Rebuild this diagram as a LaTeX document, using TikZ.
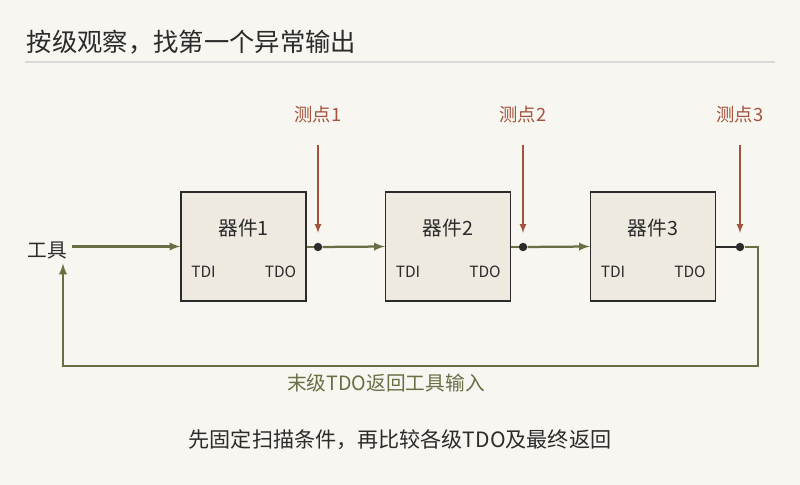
\documentclass[tikz,border=0pt]{standalone}
\usepackage{fontspec}
\setmainfont{Noto Sans CJK SC}
\usetikzlibrary{positioning}
\definecolor{olivegreen}{HTML}{6B6E45}
\definecolor{proberust}{HTML}{A3523D}
\definecolor{boxfill}{HTML}{EEEAE0}
\definecolor{paper}{HTML}{F8F6F0}
\definecolor{inkgray}{HTML}{2B2B2B}

\tikzset{
  chip/.style={draw=inkgray, line width=1pt, fill=boxfill, minimum width=3.125cm, minimum height=2.725cm},
  pin/.style={font=\fontsize{11}{11}\selectfont, text=inkgray},
  probe/.style={proberust, line width=1.2pt, ->},
  scan/.style={olivegreen, line width=1.6pt},
  tap/.style={circle, fill=inkgray, inner sep=0pt, minimum size=6pt}
}

\begin{document}
\begin{tikzpicture}[>=latex, x=0.025cm, y=-0.025cm]

	\fill[paper](0,0)rectangle(800,485);
	\useasboundingbox(0,0)rectangle(800,485);

	\node[anchor=west, font=\fontsize{18}{18}\selectfont, text=inkgray] (title) at (22,42) {按级观察，找第一个异常输出};
	\draw[black!15, line width=0.8pt](25,62)--(775,62);

	\node (tool) at (47,250) [font=\fontsize{14}{14}\selectfont, text=inkgray] {工具};

	\foreach \i/\x in {1/243.5, 2/448, 3/653}{
		\node[chip] (dev\i) at (\x,246.5) {};
		\node[font=\fontsize{14}{14}\selectfont, text=inkgray] (name\i) at (\x,228) {器件\i};
		\node[pin] (tdi\i) at (\x-40,272) {TDI};
		\node[pin] (tdo\i) at (\x+37,272) {TDO};
	}

	\node[tap] (tap1) at (318,247) {};
	\node[tap] (tap2) at (523,247) {};
	\node[tap] (tap3) at (740,247) {};

	\foreach \i/\x in {1/318, 2/523, 3/740}{
		\node[proberust, font=\fontsize{13}{13}\selectfont] (plabel\i) at (\x,115) {测点\i};
		\coordinate (ptop\i) at (\x,145);
		\coordinate (pend\i) at (\x,233);
		\draw[probe](ptop\i)--(pend\i);
	}

	\draw[scan,->](tool.east|-dev1.west)--(dev1.west);
	\draw[scan](dev1.east|-tap1)--(tap1);
	\draw[scan,->](tap1)--(dev2.west);
	\draw[scan](dev2.east|-tap2)--(tap2);
	\draw[scan,->](tap2)--(dev3.west);
	\draw[inkgray, line width=1.2pt](dev3.east|-tap3)--(tap3);

	\coordinate (turnA) at (758,247);
	\coordinate (turnB) at (758,366);
	\coordinate (turnC) at (63,366);
	\draw[scan,->](tap3)--(turnA)--(turnB)--(turnC)--(tool.south-|turnC);

	\node[olivegreen, font=\fontsize{14}{14}\selectfont] (back) at (386,383) {末级TDO返回工具输入};
	\node[inkgray, font=\fontsize{15}{15}\selectfont] (note) at (400,440) {先固定扫描条件，再比较各级TDO及最终返回};

\end{tikzpicture}
\end{document}
